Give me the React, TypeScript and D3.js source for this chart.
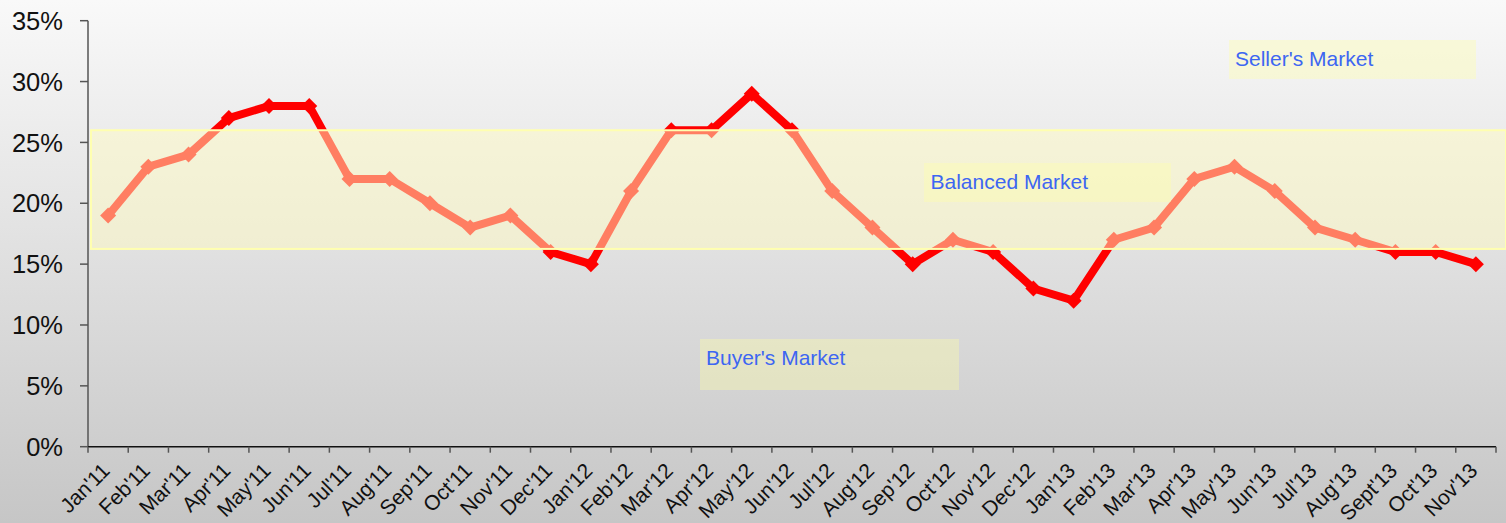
import React from "react";
import * as d3 from "d3";

const categories = ["Jan'11","Feb'11","Mar'11","Apr'11","May'11","Jun'11","Jul'11","Aug'11","Sep'11","Oct'11","Nov'11","Dec'11","Jan'12","Feb'12","Mar'12","Apr'12","May'12","Jun'12","Jul'12","Aug'12","Sep'12","Oct'12","Nov'12","Dec'12","Jan'13","Feb'13","Mar'13","Apr'13","May'13","Jun'13","Jul'13","Aug'13","Sept'13","Oct'13","Nov'13"];
const values = [19,23,24,27,28,28,22,22,20,18,19,16,15,21,26,26,29,26,21,18,15,17,16,13,12,17,18,22,23,21,18,17,16,16,15];
const yTicks = [0,5,10,15,20,25,30,35];
const balancedBand = [16.25, 26];

const W = 1506, H = 523;
const FONT = "'Liberation Sans', Arial, sans-serif";

export default function App() {
  const x = d3.scaleBand<string>().domain(categories).range([88, 1496]).padding(0);
  const y = d3.scaleLinear().domain([0, 35]).range([446.7, 20.7]);
  const cx = (c: string) => (x(c) as number) + x.bandwidth() / 2;
  const line = d3.line<number>().x((_, i) => cx(categories[i])).y((v) => y(v));
  const m = 8;
  const diamond = `M0,${-m}L${m},0L0,${m}L${-m},0Z`;
  const bounds = [...categories.map((c) => x(c) as number), 1496];

  return (
    <div style={{ position: "absolute", left: 0, top: 0 }}>
      <svg width={W} height={H} style={{ display: "block" }}>
        <defs>
          <linearGradient id="bg" x1="0" y1="0" x2="0" y2="1">
            <stop offset="0" stopColor="#f9f9f9" />
            <stop offset="1" stopColor="#c6c6c6" />
          </linearGradient>
        </defs>
        <rect x={0} y={0} width={W} height={H} fill="url(#bg)" />

        {/* line and markers */}
        <path d={line(values) || ""} fill="none" stroke="#ff0000" strokeWidth={8} strokeLinejoin="miter" />
        {values.map((v, i) => (
          <path key={i} d={diamond} transform={`translate(${cx(categories[i])},${y(v)})`} fill="#ff0000" />
        ))}

        {/* balanced band overlay */}
        <rect x={91} y={y(balancedBand[1])} width={W - 91} height={y(balancedBand[0]) - y(balancedBand[1])}
          fill="rgba(255,252,195,0.5)" stroke="#ffffb0" strokeWidth={2} />

        {/* label boxes */}
        <rect x={1229} y={40} width={247} height={39} fill="rgba(255,255,167,0.36)" />
        <text x={1235} y={66} fontFamily={FONT} fontSize={21} fill="#3d66f2">Seller's Market</text>
        <rect x={924} y={163} width={247} height={39} fill="rgba(255,255,167,0.36)" />
        <text x={930.5} y={189} fontFamily={FONT} fontSize={21} fill="#3d66f2">Balanced Market</text>
        <rect x={700} y={339} width={259} height={51} fill="rgba(255,255,167,0.36)" />
        <text x={706} y={365} fontFamily={FONT} fontSize={21} fill="#3d66f2">Buyer's Market</text>

        {/* y axis */}
        <line x1={88} x2={88} y1={y(35)} y2={y(0)} stroke="#555" strokeWidth={1.5} />
        {yTicks.map((t) => (
          <g key={t}>
            <line x1={80} x2={88} y1={y(t)} y2={y(t)} stroke="#555" strokeWidth={1.5} />
            <text x={63} y={y(t)} dy="0.36em" textAnchor="end" fontFamily={FONT} fontSize={25.5} fill="#111">{t}%</text>
          </g>
        ))}

        {/* x axis */}
        <line x1={88} x2={1496} y1={y(0)} y2={y(0)} stroke="#111" strokeWidth={1.5} />
        {bounds.map((b, i) => (
          <line key={i} x1={b} x2={b} y1={y(0)} y2={y(0) + 6} stroke="#555" strokeWidth={1.5} />
        ))}
        {categories.map((c) => (
          <text key={c} transform={`translate(${cx(c) + 3},${472}) rotate(-45)`} textAnchor="end"
            fontFamily={FONT} fontSize={21} fill="#111">{c}</text>
        ))}
      </svg>
    </div>
  );
}
